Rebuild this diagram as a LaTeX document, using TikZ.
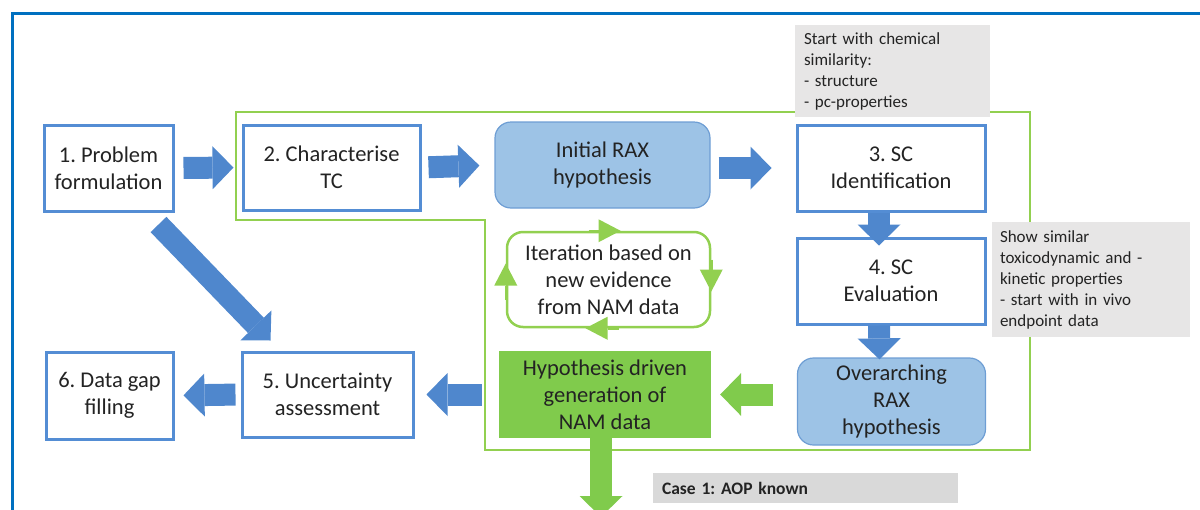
\documentclass[tikz,border=0pt]{standalone}
\usepackage{fontspec}
\setmainfont{Carlito}
\usetikzlibrary{arrows.meta}
\frenchspacing

\definecolor{frameblue}{RGB}{0,112,192}
\definecolor{boxblue}{RGB}{84,141,212}
\definecolor{arrowblue}{RGB}{79,135,205}
\definecolor{raxfill}{RGB}{157,195,230}
\definecolor{raxline}{RGB}{110,158,212}
\definecolor{namgreen}{RGB}{128,203,76}
\definecolor{loopgreen}{RGB}{146,208,80}
\definecolor{notegray}{RGB}{231,230,230}
\definecolor{casegray}{RGB}{217,217,217}
\definecolor{txt}{RGB}{35,35,35}

\begin{document}
\begin{tikzpicture}[
    x=1pt, y=-1pt,
    every node/.style={text=txt},
    stepbox/.style={draw=boxblue, line width=3pt, fill=white, align=center, inner sep=0pt, font=\fontsize{22.5}{27}\selectfont},
    raxbox/.style={draw=raxline, line width=1.2pt, fill=raxfill, rounded corners=16pt, align=center, inner sep=0pt, font=\fontsize{22.5}{27}\selectfont},
    nambox/.style={fill=namgreen, align=center, inner sep=0pt, font=\fontsize{22.5}{27}\selectfont},
    loopbox/.style={draw=loopgreen, line width=2.5pt, rounded corners=16pt, align=center, inner sep=0pt, font=\fontsize{22.5}{27}\selectfont},
    note/.style={fill=notegray, align=left, inner sep=0pt, font=\fontsize{17}{21}\selectfont},
    block arrow/.style={arrowblue, line width=22pt, -{Triangle[length=21pt, width=43pt, line width=0pt]}},
    green arrow/.style={namgreen, line width=22pt, -{Triangle[length=21pt, width=43pt, line width=0pt]}},
    looptip/.style={loopgreen, line width=2.5pt, -{Triangle[length=22pt, width=23pt, line width=0pt]}}
]
\useasboundingbox (0,0) rectangle (1200,509);
\clip (0,0) rectangle (1200,509);

% Frame and RAX region
\draw[frameblue, line width=3pt] (12,13) rectangle (1220,530);
\draw[loopgreen, line width=2.5pt] (236,112) -| (1030,450) -| (485,220) -| cycle;

% Nodes
\node[stepbox, minimum width=129pt, minimum height=86pt] (prob) at (108.5,168) {1. Problem\\formulation};
\node[stepbox, minimum width=177pt, minimum height=85pt] (charac) at (331.5,167.5) {2. Characterise\\TC};
\node[raxbox, minimum width=215pt, minimum height=86pt] (initial) at (602.5,165) {Initial RAX\\hypothesis};
\node[stepbox, minimum width=188pt, minimum height=86pt] (ident) at (891,168) {3. SC\\Identification};
\node[stepbox, minimum width=188pt, minimum height=86pt] (eval) at (891,281) {4. SC\\Evaluation};
\node[raxbox, minimum width=188pt, minimum height=87pt] (over) at (891.5,401.5) {Overarching\\RAX\\hypothesis};
\node[nambox, minimum width=212pt, minimum height=87pt] (hyp) at (605,394.5) {Hypothesis driven\\generation of\\NAM data};
\node[loopbox, minimum width=203pt, minimum height=95pt] (iter) at (608.5,279.5) {Iteration based on\\new evidence\\from NAM data};
\node[stepbox, minimum width=171pt, minimum height=85pt] (unc) at (327.5,394.5) {5. Uncertainty\\assessment};
\node[stepbox, minimum width=127pt, minimum height=87pt] (gap) at (109.5,395.5) {6. Data gap\\filling};

% Notes
\node[note, minimum width=195pt, minimum height=92pt, text width=177pt] (chemnote) at (892.5,71)
    {Start with chemical\\similarity:\\- structure\\- pc-properties};
\node[note, minimum width=198pt, minimum height=115pt, text width=182pt] (kinnote) at (1091,279.5)
    {Show similar\\toxicodynamic and -\\kinetic properties\\- start with in vivo\\endpoint data};
\node[note, fill=casegray, minimum width=305pt, minimum height=30pt, text width=287pt, font=\fontsize{17.5}{21}\selectfont] (casenote) at (805.5,488)
    {\textbf{Case 1: AOP known}};
\coordinate (namout) at (601,517);

% Block arrows
\draw[block arrow, shorten <=9pt, shorten >=8pt] (prob.east) -- (charac.west);
\draw[block arrow, shorten <=7pt, shorten >=15pt] (charac.east) -- (initial.west);
\draw[block arrow, shorten <=8pt, shorten >=24pt] (initial.east |- ident.west) -- (ident.west);
\draw[block arrow] ([xshift=-12pt]ident.south) -- ([xshift=-12pt, yshift=-9pt]eval.north);
\draw[block arrow] ([xshift=-12pt]eval.south) -- ([xshift=-12pt, yshift=-2pt]over.north);
\draw[block arrow] ([xshift=-16pt, yshift=-12pt]prob.south east) -- ([xshift=30pt, yshift=10pt]unc.north west);
\draw[block arrow, shorten <=17pt, shorten >=12pt] (hyp.west) -- (unc.east);
\draw[block arrow, shorten <=5pt, shorten >=9pt] (unc.west) -- (gap.east);
\draw[green arrow, shorten <=24pt, shorten >=9pt] (over.west |- hyp.east) -- (hyp.east);
\draw[green arrow] ([xshift=-4pt]hyp.south) -- (namout);

% Iteration loop tips
\draw[looptip] ([xshift=-20pt]iter.north) -- ([xshift=12pt]iter.north);
\draw[looptip] ([yshift=20pt]iter.east) -- ([yshift=-12pt]iter.east);
\draw[looptip] ([xshift=10pt]iter.south) -- ([xshift=-23pt]iter.south);
\draw[looptip] ([yshift=-20pt]iter.west) -- ([yshift=16pt]iter.west);

\end{tikzpicture}
\end{document}
